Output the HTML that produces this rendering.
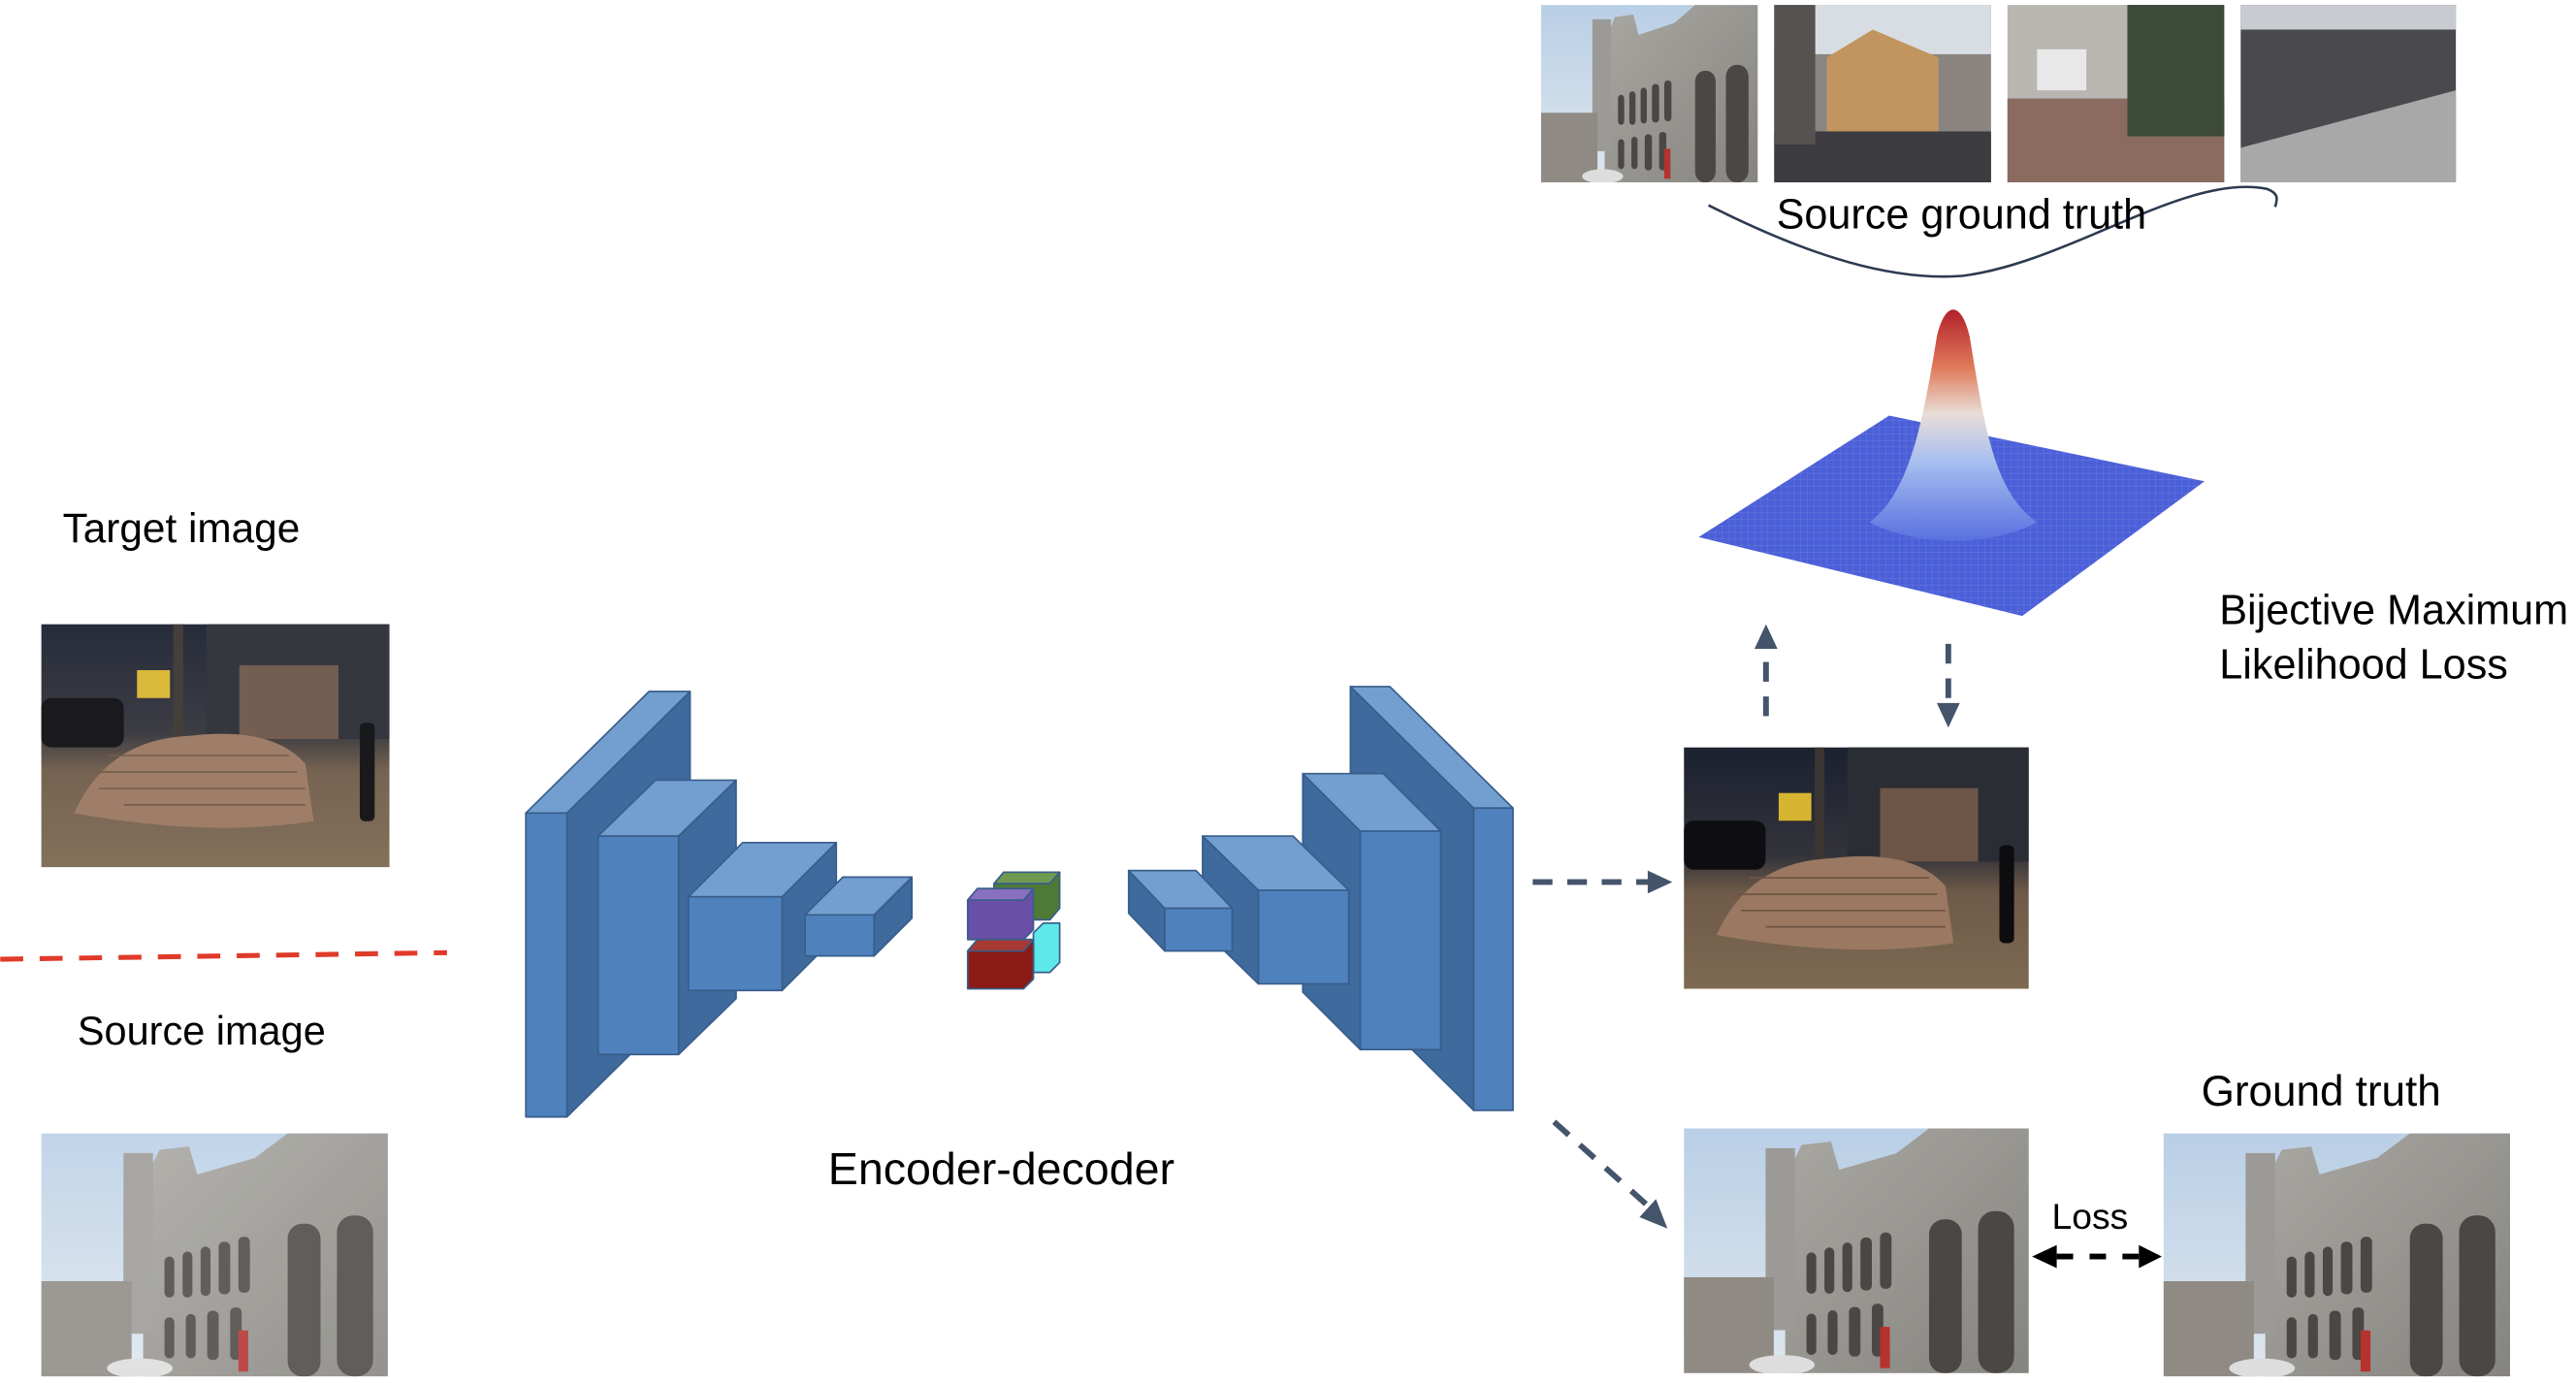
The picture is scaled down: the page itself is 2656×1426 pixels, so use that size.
<!DOCTYPE html>
<html><head><meta charset="utf-8"><style>
html,body{margin:0;padding:0;background:#fff;}
svg{display:block;}
text{font-family:"Liberation Sans",sans-serif;fill:#000;}
</style></head><body>
<svg width="2656" height="1426" viewBox="0 0 1568 842" xmlns="http://www.w3.org/2000/svg">
<defs>
<linearGradient id="sky" x1="0" y1="0" x2="0" y2="1"><stop offset="0" stop-color="#b9cfe6"/><stop offset="1" stop-color="#dfe7ee"/></linearGradient>
<linearGradient id="bld" x1="0" y1="0" x2="1" y2="1"><stop offset="0" stop-color="#a9a7a2"/><stop offset="1" stop-color="#86847f"/></linearGradient>
<linearGradient id="nightg" x1="0" y1="0" x2="0" y2="1"><stop offset="0" stop-color="#1b2130"/><stop offset="0.45" stop-color="#33333a"/><stop offset="0.6" stop-color="#6e5a48"/><stop offset="1" stop-color="#7d6a52"/></linearGradient>
<linearGradient id="bell" x1="0" y1="0" x2="0" y2="1"><stop offset="0" stop-color="#b2202a"/><stop offset="0.25" stop-color="#e07a5a"/><stop offset="0.45" stop-color="#e8ddd6"/><stop offset="0.65" stop-color="#a9c0f0"/><stop offset="1" stop-color="#5a70e0"/></linearGradient>
<pattern id="grid" width="4" height="4" patternUnits="userSpaceOnUse"><rect width="4" height="4" fill="#4b5fd8"/><path d="M0 0H4M0 0V4" stroke="#6a7be0" stroke-width="0.5"/></pattern>
<g id="building">
<rect width="211" height="148" fill="url(#sky)"/>
<polygon points="62,148 62,30 72,10 90,8 95,25 130,15 150,0 211,0 211,148" fill="url(#bld)"/>
<rect x="50" y="12" width="18" height="110" fill="#9c9a96"/>
<rect x="0" y="90" width="55" height="58" fill="#8f8a84"/>
<g fill="#4a4744">
<rect x="75" y="75" width="6" height="25" rx="3"/><rect x="86" y="72" width="6" height="28" rx="3"/><rect x="97" y="69" width="6" height="30" rx="3"/><rect x="108" y="66" width="7" height="32" rx="3"/><rect x="120" y="63" width="7" height="34" rx="3"/>
<rect x="150" y="55" width="20" height="93" rx="9"/><rect x="180" y="50" width="22" height="98" rx="10"/>
<rect x="75" y="112" width="6" height="25" rx="3"/><rect x="88" y="110" width="6" height="27" rx="3"/><rect x="101" y="108" width="7" height="30" rx="3"/><rect x="115" y="106" width="7" height="32" rx="3"/>
</g>
<rect x="120" y="120" width="6" height="25" fill="#b5322e"/>
<ellipse cx="60" cy="143" rx="20" ry="6" fill="#ddd"/>
</g>
<g id="nightscene">
<rect width="211" height="148" fill="url(#nightg)"/>
<rect x="100" y="0" width="111" height="70" fill="#2b2d35"/>
<rect x="120" y="25" width="60" height="45" fill="#6d5548"/>
<rect x="58" y="28" width="20" height="17" fill="#d7b530"/>
<rect x="80" y="0" width="6" height="70" fill="#3a3530"/>
<rect x="0" y="45" width="50" height="30" rx="6" fill="#0e0e12"/>
<path d="M20,115 Q40,70 90,68 Q140,62 160,85 L165,120 Q100,130 20,115Z" fill="#9a7861"/>
<g stroke="#6f5544" stroke-width="1" fill="none"><path d="M35,100H160M30,90H155M40,80H150M50,110H160"/></g>
<rect x="193" y="60" width="9" height="60" rx="3" fill="#0d0d10"/>
</g>
</defs>

<!-- left side -->
<text x="38" y="330" font-size="25">Target image</text>
<svg x="25" y="380" width="212" height="148" viewBox="0 0 211 148" preserveAspectRatio="none"><use href="#nightscene"/><rect width="211" height="148" fill="#fff" opacity="0.05"/></svg>
<line x1="0" y1="584" x2="272" y2="580" stroke="#e03a2a" stroke-width="3" stroke-dasharray="14,10"/>
<text x="47" y="636" font-size="24.5">Source image</text>
<svg x="25" y="690" width="211" height="148" viewBox="0 0 211 148" preserveAspectRatio="none"><use href="#building"/><rect width="211" height="148" fill="#fff" opacity="0.12"/></svg>

<!-- encoder -->
<g stroke="#385d8a" stroke-width="1" stroke-linejoin="round">
<polygon points="345,495 420,421 420,606 345,680" fill="#3f6a9e"/>
<polygon points="320,495 395,421 420,421 345,495" fill="#729fcf"/>
<rect x="320" y="495" width="25" height="185" fill="#4f81bd"/>
<polygon points="413,509 448,475 448,608 413,642" fill="#3f6a9e"/>
<polygon points="364,509 399,475 448,475 413,509" fill="#729fcf"/>
<rect x="364" y="509" width="49" height="133" fill="#4f81bd"/>
<polygon points="476,546 509,513 509,570 476,603" fill="#3f6a9e"/>
<polygon points="419,546 452,513 509,513 476,546" fill="#729fcf"/>
<rect x="419" y="546" width="57" height="57" fill="#4f81bd"/>
<polygon points="532,557 555,534 555,559 532,582" fill="#3f6a9e"/>
<polygon points="490,557 513,534 555,534 532,557" fill="#729fcf"/>
<rect x="490" y="557" width="42" height="25" fill="#4f81bd"/>

<!-- bottleneck -->
<polygon points="605,538 611,531 645,531 645,553 639,560 605,560" fill="#4e7a35"/>
<polygon points="605,538 611,531 645,531 639,538" fill="#6f9a50"/>
<polygon points="629,568 635,562 645,562 645,586 639,592 629,592" fill="#5ee8ea"/>
<polygon points="589,548 595,541 629,541 629,566 623,572 589,572" fill="#6a4fa8"/>
<polygon points="589,548 595,541 629,541 623,548" fill="#8a70c0"/>
<polygon points="589,579 595,572 629,572 629,596 623,602 589,602" fill="#8b1a14"/>
<polygon points="589,579 595,572 629,572 623,579" fill="#a83a34"/>

<!-- decoder (back to front) -->
<polygon points="897,492 822,418 822,602 897,676" fill="#3f6a9e"/>
<polygon points="897,492 822,418 846,418 921,492" fill="#729fcf"/>
<rect x="897" y="492" width="24" height="184" fill="#4f81bd"/>
<polygon points="828,506 793,471 793,604 828,639" fill="#3f6a9e"/>
<polygon points="828,506 793,471 842,471 877,506" fill="#729fcf"/>
<rect x="828" y="506" width="49" height="133" fill="#4f81bd"/>
<polygon points="766,542 732,509 732,566 766,599" fill="#3f6a9e"/>
<polygon points="766,542 732,509 787,509 821,542" fill="#729fcf"/>
<rect x="766" y="542" width="55" height="57" fill="#4f81bd"/>
<polygon points="709,553 687,530 687,556 709,579" fill="#3f6a9e"/>
<polygon points="709,553 687,530 728,530 750,553" fill="#729fcf"/>
<rect x="709" y="553" width="41" height="26" fill="#4f81bd"/>
</g>
<text x="504" y="721" font-size="27.5">Encoder-decoder</text>

<!-- arrows -->
<g stroke="#44546a" stroke-width="3.5" stroke-dasharray="12,9" fill="none">
<line x1="933" y1="537" x2="1004" y2="537"/>
<line x1="946" y1="683" x2="1003" y2="734"/>
<line x1="1075" y1="436" x2="1075" y2="394"/>
<line x1="1186" y1="392" x2="1186" y2="430"/>
</g>
<g fill="#44546a">
<polygon points="1018,537 1003,530 1003,544"/>
<polygon points="1015,748 998,741 1008,730"/>
<polygon points="1075,380 1068,395 1082,395"/>
<polygon points="1186,443 1179,428 1193,428"/>
</g>
<line x1="1252" y1="765" x2="1302" y2="765" stroke="#000" stroke-width="3.5" stroke-dasharray="10,10"/>
<polygon points="1237,765 1252,758 1252,772" fill="#000"/>
<polygon points="1316,765 1302,758 1302,772" fill="#000"/>
<text x="1249" y="748" font-size="22">Loss</text>

<!-- right photos -->
<svg x="1025" y="455" width="210" height="147" viewBox="0 0 211 148" preserveAspectRatio="none"><use href="#nightscene"/></svg>
<svg x="1025" y="687" width="210" height="149" viewBox="0 0 211 148" preserveAspectRatio="none"><use href="#building"/></svg>
<svg x="1317" y="690" width="211" height="148" viewBox="0 0 211 148" preserveAspectRatio="none"><use href="#building"/></svg>
<text x="1340" y="673" font-size="26">Ground truth</text>

<!-- gaussian -->
<polygon points="1034,327 1150,253 1342,293 1231,375" fill="url(#grid)"/>
<path d="M1138,318 C1162,300 1170,260 1179,205 C1184,183 1194,183 1199,205 C1208,260 1214,300 1240,318 C1212,333 1166,333 1138,318Z" fill="url(#bell)"/>
<text x="1351" y="380" font-size="25.5">Bijective Maximum</text>
<text x="1351" y="413" font-size="25.5">Likelihood Loss</text>

<!-- top photos -->
<svg x="938" y="3" width="132" height="108" viewBox="0 0 211 148" preserveAspectRatio="none"><use href="#building"/></svg>
<g>
<rect x="1080" y="3" width="132" height="108" fill="#8a8580"/>
<rect x="1080" y="3" width="132" height="30" fill="#d8dde3"/>
<polygon points="1112,35 1140,18 1180,35 1180,90 1112,90" fill="#c29560"/>
<rect x="1080" y="80" width="132" height="31" fill="#3c3c40"/>
<rect x="1080" y="3" width="25" height="85" fill="#55524f"/>
</g>
<g>
<rect x="1222" y="3" width="132" height="108" fill="#b9b6b2"/>
<rect x="1222" y="60" width="132" height="51" fill="#8b6a60"/>
<rect x="1295" y="3" width="59" height="80" fill="#3e4a38"/>
<rect x="1240" y="30" width="30" height="25" fill="#e8e8e8"/>
</g>
<g>
<rect x="1364" y="3" width="131" height="108" fill="#4a4a4e"/>
<polygon points="1364,111 1364,90 1495,55 1495,111" fill="#a9a8a8"/>
<rect x="1364" y="3" width="131" height="15" fill="#c8ccd0"/>
</g>
<path d="M1040,125 C1080,145 1140,172 1194,168 C1260,160 1330,105 1380,115 C1388,118 1386,122 1385,126" fill="none" stroke="#2c3a50" stroke-width="1.5"/>
<text x="1194" y="139" font-size="25.5" text-anchor="middle">Source ground truth</text>
</svg>
</body></html>
